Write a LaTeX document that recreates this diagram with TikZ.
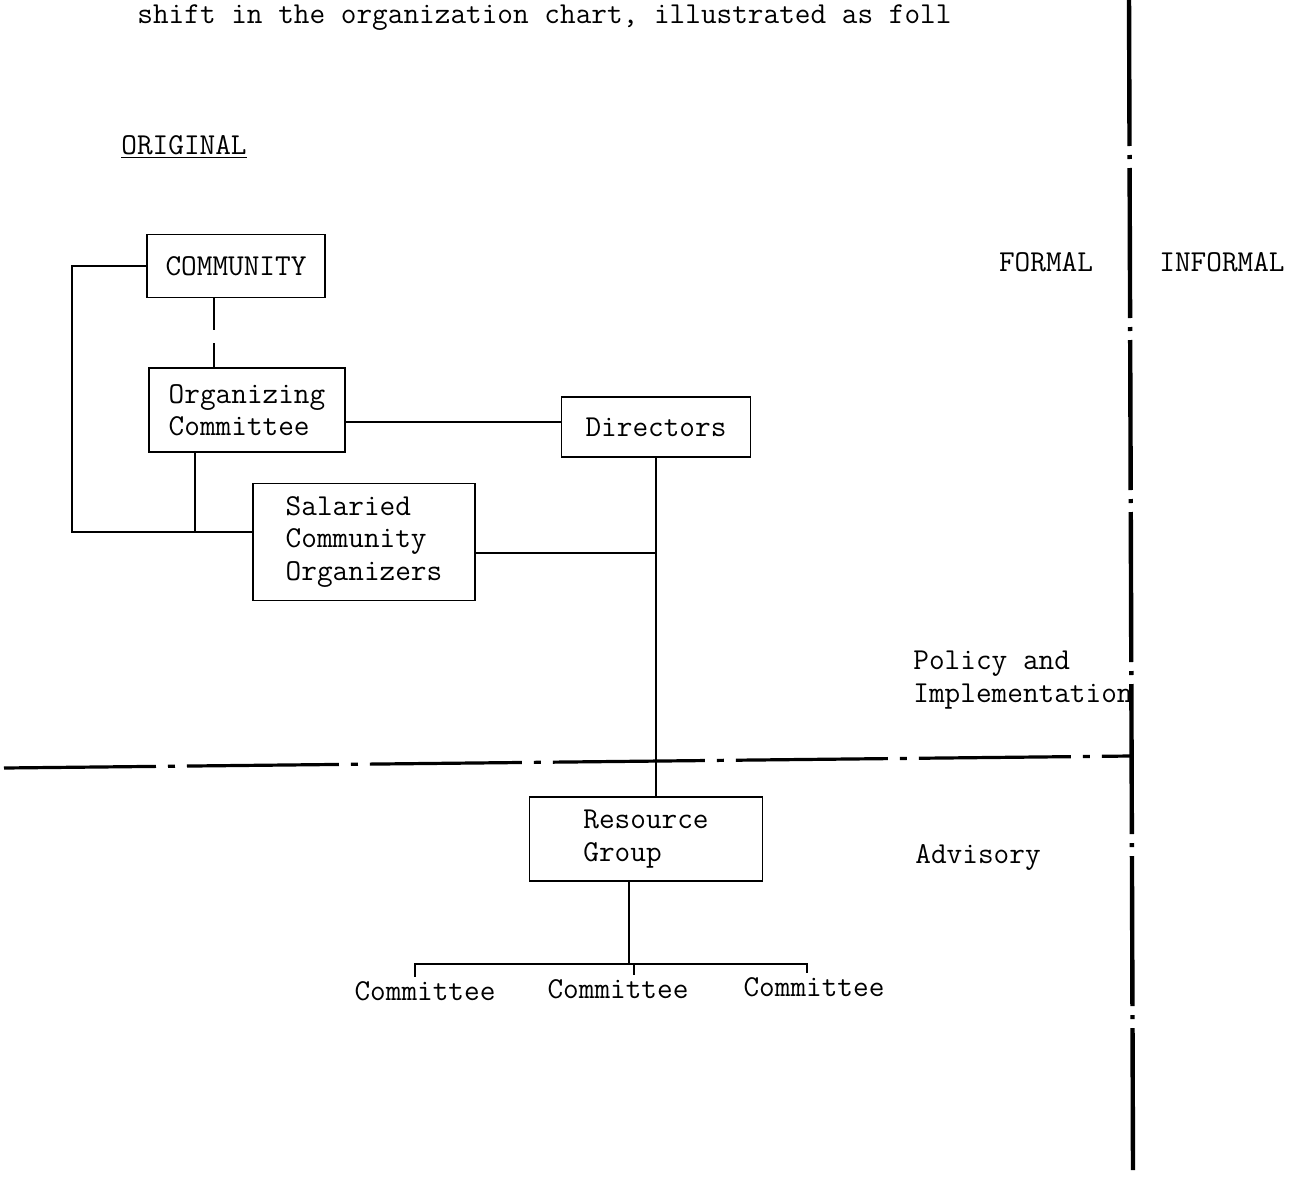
\documentclass[tikz,border=0pt]{standalone}
\usepackage{fontspec}
\usetikzlibrary{positioning, calc}
\newcommand{\chartfont}{\fontsize{15.2}{16.25}\selectfont\ttfamily}

\begin{document}
\begin{tikzpicture}[x=0.5pt, y=-0.5pt,
        every node/.style={font=\chartfont},
        orgbox/.style={draw=black, line width=0.8pt, rectangle, align=left, inner sep=4pt},
        plain/.style={inner sep=2pt},
        edge/.style={line width=0.8pt},
        vsep/.style={line width=2.2pt, dash pattern=on 75pt off 4.5pt on 2pt off 4.5pt},
        hsep/.style={line width=1.6pt, dash pattern=on 76pt off 6pt on 3.5pt off 6pt}
    ]

    \useasboundingbox (0,0) rectangle (1295,1199);

    % Texte
    \node[plain, anchor=base west] (intro) at (133,24) {shift in the organization chart, illustrated as foll};
    \node[plain, anchor=base west] (orig) at (117,154) {\underline{ORIGINAL}};
    \node[plain] (formal) at (1046,262) {FORMAL};
    \node[plain] (informal) at (1222,262) {INFORMAL};
    \node[plain, anchor=west, align=left] (policy) at (909,680) {Policy and\\Implementation};
    \node[plain, anchor=west] (adv) at (911,857) {Advisory};

    % Knoten
    \node[orgbox, minimum width=89pt, minimum height=31.5pt] (comm) at (236,266) {COMMUNITY};
    \node[orgbox, minimum width=98pt, minimum height=42pt] (org) at (247,410) {Organizing\\Committee};
    \node[orgbox, minimum width=94.5pt, minimum height=30pt] (dir) at (656,427) {Directors};
    \node[orgbox, minimum width=111pt, minimum height=58.5pt] (sal) at (364,542) {Salaried\\Community\\Organizers};
    \node[orgbox, minimum width=116.5pt, minimum height=42pt] (res) at (646,839) {Resource\\Group};
    \node[plain, anchor=base] (cm1) at (425,1000) {Committee};
    \node[plain, anchor=base] (cm2) at (618,998) {Committee};
    \node[plain, anchor=base] (cm3) at (814,996) {Committee};

    % Hilfspunkte
    \coordinate (lft) at (72,532);
    \coordinate (brl) at (415,964);
    \coordinate (brm) at (634,964);
    \coordinate (brr) at (807,964);
    \coordinate (hl) at (4,768);
    \coordinate (hr) at (1131,756);
    \coordinate (vt) at (1129,-4);
    \coordinate (vb) at (1133,1170);

    % Kanten zwischen Knoten
    \draw[edge] (comm.west) -| (lft) -- (lft -| sal.west);
    \draw[edge] ([xshift=-26pt]org.south) -- ([xshift=-26pt]org.south |- lft);
    \draw[edge, dash pattern=on 16pt off 6.5pt] ([xshift=-11pt]comm.south) -- ([xshift=-11pt]comm.south |- org.north);
    \draw[edge] ([yshift=-6pt]org.east) -- ([yshift=-6pt]org.east -| dir.west);
    \draw[edge] (dir.south) -- (dir.south |- res.north);
    \draw[edge] ([yshift=-5.5pt]sal.east) -- ([yshift=-5.5pt]sal.east -| dir.south);
    \draw[edge] ([xshift=-8.5pt]res.south) -- ([xshift=-8.5pt]res.south |- brm);
    \draw[edge] (brl |- cm1.north) -- (brl) -- (brr) -- (brr |- cm3.north);
    \draw[edge] (brm) -- (brm |- cm2.north);

    % Trennlinien
    \draw[hsep] (hl) -- (hr);
    \draw[vsep] (vt) -- (vb);

\end{tikzpicture}
\end{document}
